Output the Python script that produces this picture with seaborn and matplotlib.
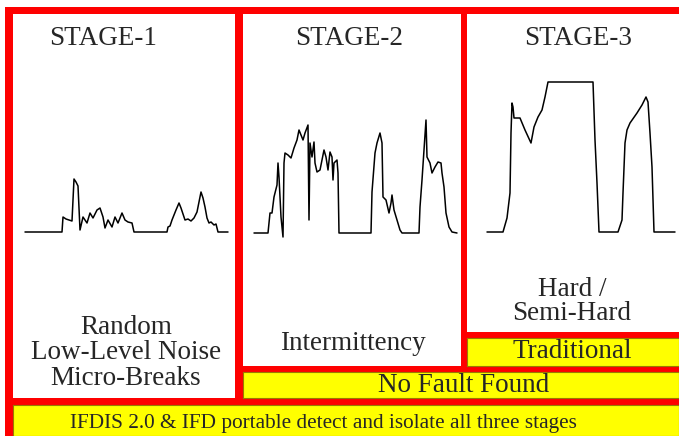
import matplotlib
matplotlib.use("Agg")
import matplotlib.pyplot as plt
import seaborn as sns
import pandas as pd
from matplotlib.patches import Rectangle

# ---------------- data (time samples, signal amplitude) ----------------
stage1_t = [0, 37, 38, 41, 47, 49, 51, 53, 55, 58, 62, 65, 68, 72, 75, 78, 80, 83, 87, 90,
            93, 97, 100, 103, 107, 109, 142, 143, 145, 147, 149, 151, 154, 156, 158, 160,
            163, 166, 169, 172, 176, 178, 180, 182, 184, 186, 189, 191, 193, 203]
stage1_a = [0, 0, 15, 13, 11, 53, 50, 46, 2, 15, 9, 19, 14, 22, 24, 15, 4, 12, 5, 15,
            9, 19, 12, 10, 9, 0, 0, 5, 6, 12, 17, 22, 29, 24, 18, 12,
            13, 11, 14, 20, 40, 34, 25, 14, 9, 10, 7, 8, 0, 0]

stage2_t = [0, 14, 16, 18, 20, 23, 24, 25, 27, 29, 30, 31, 34, 37, 40, 43, 45, 47, 49, 51,
            54, 55, 56, 58, 60, 61, 63, 66, 68, 70, 72, 74, 76, 78, 79, 80, 83, 84, 85,
            117, 118, 121, 123, 126, 128, 129, 132, 135, 137, 138, 140, 143, 146, 148,
            165, 166, 168, 172, 173, 176, 178, 181, 184, 187, 188, 190, 192, 195, 198, 203]
stage2_a = [0, 0, 20, 20, 36, 48, 70, 56, 16, -4, 70, 80, 78, 75, 85, 93, 103, 98, 93, 100,
            108, 13, 90, 76, 91, 70, 61, 63, 73, 83, 76, 63, 81, 76, 53, 70, 73, 60, 0,
            0, 41, 80, 90, 100, 90, 36, 33, 20, 30, 38, 23, 13, 3, 0,
            0, 26, 53, 113, 76, 70, 60, 66, 71, 70, 60, 46, 20, 6, 1, 0]

stage3_t = [0, 16, 20, 23, 24, 25, 26, 27, 33, 38, 44, 47, 51, 55, 58, 61, 106, 108, 110, 112,
            131, 135, 136, 138, 140, 143, 150, 155, 159, 161, 163, 165, 167, 188]
stage3_a = [0, 0, 14, 39, 99, 129, 125, 114, 114, 102, 89, 105, 115, 122, 135, 150, 150, 92, 49, 0,
            0, 12, 39, 89, 102, 109, 119, 127, 135, 130, 99, 65, 0, 0]

stage_titles = ["STAGE-1", "STAGE-2", "STAGE-3"]
stage_labels = ["Random\nLow-Level Noise\nMicro-Breaks", "Intermittency", "Hard /\nSemi-Hard"]
band_labels = ["Traditional", "No Fault Found",
               "IFDIS 2.0 & IFD portable detect and isolate all three stages"]

# ---------------- layout ----------------
W, H = 679, 436
RED = "#fe0000"
YEL = "#ffff00"
BIG = 19.5

sns.set_style("white")
plt.rcParams["font.family"] = ["Liberation Serif", "DejaVu Serif"]

fig = plt.figure(figsize=(W / 100, H / 100), dpi=100)
fig.patch.set_facecolor("white")
fig.add_artist(Rectangle((5 / W, 0), (W - 5) / W, (H - 7) / H,
                         transform=fig.transFigure, facecolor=RED, edgecolor="none",
                         zorder=-10))


def cell(x0, y0, x1, y1, color, edge=None):
    ax = fig.add_axes([x0 / W, 1 - y1 / H, (x1 - x0) / W, (y1 - y0) / H])
    ax.set_facecolor(color)
    ax.set_xticks([])
    ax.set_yticks([])
    for s in ax.spines.values():
        if edge is None:
            s.set_visible(False)
        else:
            s.set_color(edge)
            s.set_linewidth(0.8)
    return ax


# stage cells: (x0, y0, x1, y1), waveform origin (start x, baseline y)
cells = [(13, 14, 235, 398), (243, 14, 461, 366), (467, 14, W, 332)]
origins = [(25, 232), (254, 233), (487, 232)]
series = [(stage1_t, stage1_a), (stage2_t, stage2_a), (stage3_t, stage3_a)]
title_pos = [(103, 45), (349, 45), (578, 45)]
# (x centre, last-line baseline, line spacing)
label_pos = [(126, 385, 1.03), (353, 350, 1.0), (572, 320, 0.93)]

for (x0, y0, x1, y1), (sx, by), (t, a), title, (tx, ty), lab, (lx, ly, ls) in zip(
        cells, origins, series, stage_titles, title_pos, stage_labels, label_pos):
    ax = cell(x0, y0, x1, y1, "white")
    df = pd.DataFrame({"t": t, "a": a})
    sns.lineplot(data=df, x="t", y="a", ax=ax, color="black", linewidth=1.1,
                 sort=False, estimator=None)
    ax.set_xlim(x0 - sx, x1 - sx)
    ax.set_ylim(by - y1, by - y0)
    ax.set_xlabel("")
    ax.set_ylabel("")
    fig.text(tx / W, 1 - ty / H, title, ha="center", va="baseline", fontsize=BIG)
    fig.text(lx / W, 1 - ly / H, lab, ha="center", va="baseline", fontsize=BIG,
             multialignment="center", linespacing=ls)

# yellow bands
bands = [(467, 338, W, 366), (243, 372, W, 398), (13, 405, W, H)]
band_text = [(572, 358, BIG), (464, 392, BIG), (323, 428, 15.3)]
for (x0, y0, x1, y1), lab, (bx, byy, fs) in zip(bands, band_labels, band_text):
    cell(x0, y0, x1, y1, YEL, edge="#9a7a00")
    fig.text(bx / W, 1 - byy / H, lab, ha="center", va="baseline", fontsize=fs)

fig.savefig("out.png", dpi=100, facecolor="white")
